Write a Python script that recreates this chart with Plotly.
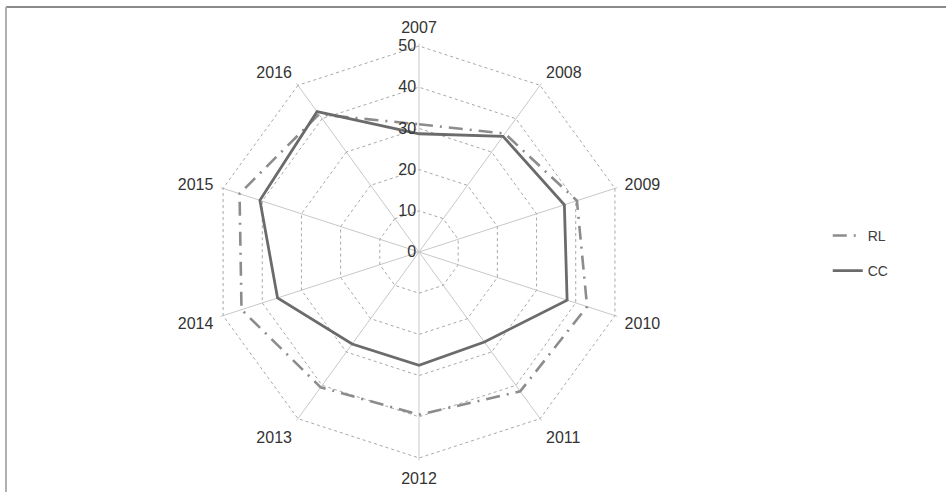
import plotly.graph_objects as go

# Years around the radar and the two series
years = ["2007", "2008", "2009", "2010", "2011", "2012", "2013", "2014", "2015", "2016"]
rl_values = [31, 35.5, 40.3, 42.9, 41.8, 39.5, 40.6, 45.3, 45.8, 41.3]
cc_values = [28.7, 34.7, 37.1, 37.8, 27.0, 27.5, 27.6, 36.1, 40.6, 42.1]
radial_ticks = [0, 10, 20, 30, 40, 50]
r_max = 50.6

W, H = 946, 492
cx, cy = 419, 252
R = 206 * r_max / 50

def close(seq):
    return list(seq) + [seq[0]]

fig = go.Figure()
fig.add_trace(go.Scatterpolar(
    r=close(rl_values), theta=close(years), mode="lines", name="RL",
    line=dict(color="#8c8c8c", width=2.6, dash="14px,7px,2px,7px"),
    legendgroup="rl",
))
fig.add_trace(go.Scatterpolar(
    r=close(cc_values), theta=close(years), mode="lines", name="CC",
    line=dict(color="#6b6b6b", width=2.8),
    legendgroup="cc",
))

fig.update_layout(
    width=W, height=H,
    margin=dict(l=0, r=0, t=0, b=0),
    paper_bgcolor="white",
    font=dict(family="Liberation Sans, Arial, sans-serif", size=13, color="#404040"),
    polar=dict(
        domain=dict(x=[(cx - R) / W, (cx + R) / W], y=[(H - cy - R) / H, (H - cy + R) / H]),
        bgcolor="white",
        gridshape="linear",
        angularaxis=dict(
            rotation=90, direction="clockwise",
            showline=False, ticks="outside", ticklen=4, tickcolor="rgba(0,0,0,0)",
            gridcolor="#c8c8c8", gridwidth=1,
            tickfont=dict(size=16, color="#333333"),
        ),
        radialaxis=dict(
            range=[0, r_max], tickvals=radial_ticks, angle=90, side="counterclockwise",
            showline=False, ticks="",
            gridcolor="#a8a8a8", gridwidth=1, griddash="dot",
            tickfont=dict(size=16, color="#333333"),
            tickangle=90,
        ),
    ),
    showlegend=True,
    legend=dict(
        x=0.875, y=0.485, xanchor="left", yanchor="middle",
        font=dict(size=14, color="#404040"),
        tracegroupgap=14, bgcolor="rgba(0,0,0,0)",
    ),
    shapes=[
        dict(type="line", xref="paper", yref="paper",
             x0=6 / W, x1=1.01, y0=1 - 7 / H, y1=1 - 7 / H,
             line=dict(color="#8a8a8a", width=2)),
        dict(type="line", xref="paper", yref="paper",
             x0=6 / W, x1=6 / W, y0=1 - 7 / H, y1=-0.01,
             line=dict(color="#b0b0b0", width=2)),
    ],
)

fig.write_html("out.html")
